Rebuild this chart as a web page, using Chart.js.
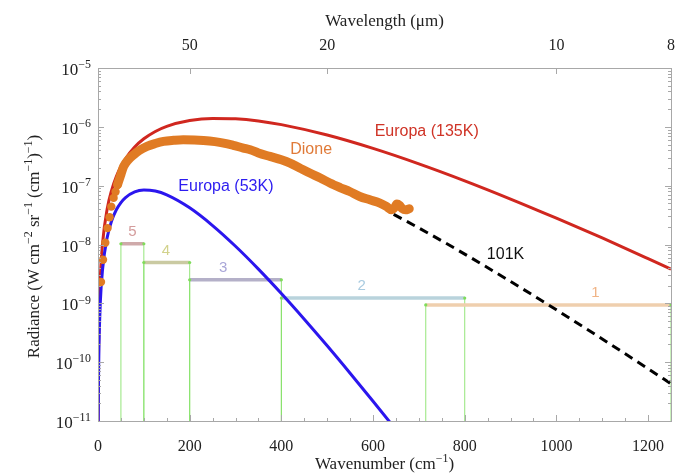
<!DOCTYPE html>
<html>
<head>
<meta charset="utf-8">
<script src="https://cdn.jsdelivr.net/npm/chart.js@4.4.0/dist/chart.umd.min.js"></script>
<style>
  html, body { margin: 0; padding: 0; background: #fff; }
  #wrap { width: 684px; height: 474px; }
</style>
</head>
<body>
<div id="wrap"><canvas id="chart" width="684" height="474"></canvas></div>
<script>
// ─── DATA ─────────────────────────────────────────────────
// wavenumber (cm^-1) / radiance (W cm^-2 sr^-1 (cm^-1)^-1)
const nu135 = [0.25, 0.5, 1, 2, 5, 10, 20, 30, 40, 50, 60, 80, 100, 125, 150, 200, 250, 300, 350, 400, 500, 600, 700, 800, 900, 1000, 1100, 1200, 1250];
const europa135 = [7e-12, 2.8e-11, 1.11e-10, 4.4e-10, 2.7e-9, 1.06e-8, 4.0e-8, 8.5e-8, 1.43e-7, 2.12e-7, 2.87e-7, 4.53e-7, 6.26e-7, 8.34e-7, 1.02e-6, 1.28e-6, 1.39e-6, 1.37e-6, 1.26e-6, 1.09e-6, 7.26e-7, 4.3e-7, 2.35e-7, 1.21e-7, 5.93e-8, 2.8e-8, 1.29e-8, 5.75e-9, 3.81e-9];

const nu53 = [0.4, 0.5, 1, 2, 5, 10, 20, 30, 40, 50, 60, 80, 100, 125, 150, 200, 250, 300, 350, 400, 450, 500, 550, 600, 650];
const europa53 = [7e-12, 1.09e-11, 4.33e-11, 1.71e-10, 1.02e-9, 3.82e-9, 1.32e-8, 2.56e-8, 3.89e-8, 5.16e-8, 6.28e-8, 7.85e-8, 8.45e-8, 8.09e-8, 6.97e-8, 4.2e-8, 2.1e-8, 9.34e-9, 3.82e-9, 1.47e-9, 5.38e-10, 1.9e-10, 6.5e-11, 2.17e-11, 7.1e-12];

const nu101 = [645, 700, 800, 900, 1000, 1100, 1200, 1250];
const bb101 = [3.26e-8, 1.91e-8, 6.87e-9, 2.35e-9, 7.75e-10, 2.48e-10, 7.75e-11, 4.29e-11];

const dioneNu = [6.5, 10.9, 15.9, 20.9, 25.3, 29, 34, 38.3, 42.7, 50, 56, 65, 78, 90, 107, 125, 143, 165, 186, 210, 230, 255, 274, 295, 317, 332, 350, 375, 400, 419, 440, 462, 485, 506, 528, 549, 571, 593, 615, 629, 640, 647, 652, 658, 664, 671, 679];
const dioneRad = [2.3e-9, 5.5e-9, 1.07e-8, 1.9e-8, 2.9e-8, 4.4e-8, 6.2e-8, 7.9e-8, 1.04e-7, 1.55e-7, 2.12e-7, 2.7e-7, 3.36e-7, 3.95e-7, 4.65e-7, 5.2e-7, 5.65e-7, 5.9e-7, 6.04e-7, 6.0e-7, 5.87e-7, 5.6e-7, 5.3e-7, 4.85e-7, 4.36e-7, 4.08e-7, 3.6e-7, 3.14e-7, 2.75e-7, 2.42e-7, 2.0e-7, 1.64e-7, 1.35e-7, 1.11e-7, 9.3e-8, 7.96e-8, 6.55e-8, 5.75e-8, 5.06e-8, 4.43e-8, 3.89e-8, 4.26e-8, 4.86e-8, 4.6e-8, 4.05e-8, 3.89e-8, 4.05e-8];

// spectral bands
const bandNames = ['1', '2', '3', '4', '5'];
const bandLo = [715, 400, 200, 100, 50];
const bandHi = [1250, 800, 400, 200, 100];
const bandLevel = [9.4e-10, 1.23e-9, 2.51e-9, 4.94e-9, 1.03e-8];

// axes
const xTicks = [0, 200, 400, 600, 800, 1000, 1200];
const topTickNu = [200, 500, 1000, 1250];
const topTickLabels = ['50', '20', '10', '8'];
const yDecades = [-11, -10, -9, -8, -7, -6, -5];

// ─── STYLE ────────────────────────────────────────────────
const SERIF = '"Liberation Serif", "DejaVu Serif", serif';
const SANS = '"Liberation Sans", Arial, sans-serif';
const bandLine = ['#efcfae', '#b9d3dc', '#b4b0c8', '#cacaa2', '#cfaaaa'];
const bandText = ['#f0b486', '#a9cbe0', '#a9a6d8', '#d2d28c', '#d49c9c'];

const curveLabels = [
    { text: 'Europa (135K)', nu: 717, rad: 8.3e-7, color: '#cf3326' },
    { text: 'Dione', nu: 465, rad: 4.1e-7, color: '#e07a38' },
    { text: 'Europa (53K)', nu: 279, rad: 9.7e-8, color: '#2c1cf0' },
    { text: '101K', nu: 889, rad: 6.7e-9, color: '#111' },
];
const bandLabelNu = [1085, 575, 273, 148, 75];

const pts = (xs, ys) => xs.map((x, i) => ({ x, y: ys[i] }));

// vertical green edges of each band
const edges = [];
bandLo.forEach((lo, i) => {
    [lo, bandHi[i]].forEach(v => {
        edges.push({ x: v, y: 1e-11 }, { x: v, y: bandLevel[i] }, { x: v, y: null });
    });
});

const datasets = [
    {
        data: pts(dioneNu, dioneRad), order: 0,
        borderColor: '#e07b24', borderWidth: 9, borderCapStyle: 'round', borderJoinStyle: 'round',
        pointRadius: c => (c.raw && c.raw.x < 45 ? 4.2 : 0),
        pointBackgroundColor: '#e07b24', pointBorderWidth: 0,
        segment: { borderColor: c => (c.p0.parsed.x < 42 ? 'rgba(0,0,0,0)' : undefined) },
        cubicInterpolationMode: 'monotone',
    },
    { data: pts(nu53, europa53), order: 1, borderColor: '#2b16ee', borderWidth: 3, pointRadius: 0, cubicInterpolationMode: 'monotone' },
    { data: pts(nu135, europa135), order: 2, borderColor: '#d0271f', borderWidth: 3, pointRadius: 0, cubicInterpolationMode: 'monotone' },
    { data: pts(nu101, bb101), order: 3, borderColor: '#000', borderWidth: 3, borderDash: [9, 6], pointRadius: 0, cubicInterpolationMode: 'monotone' },
    { data: edges, order: 20, borderColor: 'rgba(130,225,100,0.85)', borderWidth: 1, pointRadius: 0, spanGaps: false },
];
bandLo.forEach((lo, i) => {
    datasets.push({
        data: [{ x: lo, y: bandLevel[i] }, { x: bandHi[i], y: bandLevel[i] }], order: 10,
        borderColor: bandLine[i], borderWidth: 3.5, pointRadius: 1.6,
        pointBackgroundColor: '#7fdc5a', pointBorderWidth: 0,
    });
});
datasets.forEach(d => { d.showLine = true; });

// rich text with superscripts: parts = [[text, isSup], ...]
function richWidth(ctx, parts, size) {
    return parts.reduce((w, [t, sup]) => {
        ctx.font = `${sup ? size * 0.7 : size}px ${SERIF}`;
        return w + ctx.measureText(t).width;
    }, 0);
}
function drawRich(ctx, parts, x, y, size) {
    let cx = x;
    parts.forEach(([t, sup]) => {
        ctx.font = `${sup ? size * 0.7 : size}px ${SERIF}`;
        ctx.fillText(t, cx, sup ? y - size * 0.4 : y);
        cx += ctx.measureText(t).width;
    });
}

const decor = {
    id: 'decor',
    afterDraw(chart) {
        const { ctx, chartArea: a, scales: { x, y } } = chart;
        ctx.save();
        // frame
        ctx.strokeStyle = '#a8a8a8';
        ctx.lineWidth = 1;
        ctx.strokeRect(Math.round(a.left) + 0.5, Math.round(a.top) + 0.5, Math.round(a.right - a.left), Math.round(a.bottom - a.top));

        // inward ticks
        ctx.beginPath();
        for (let v = 0; v <= 1250; v += 50) {
            const px = Math.round(x.getPixelForValue(v)) + 0.5;
            const len = v % 200 === 0 ? 6 : 3;
            ctx.moveTo(px, a.bottom); ctx.lineTo(px, a.bottom - len);
        }
        topTickNu.forEach(v => {
            const px = Math.round(x.getPixelForValue(v)) + 0.5;
            ctx.moveTo(px, a.top); ctx.lineTo(px, a.top + 6);
        });
        yDecades.forEach(e => {
            for (let m = 1; m <= 9; m++) {
                if (e === -5 && m > 1) break;
                const py = Math.round(y.getPixelForValue(m * Math.pow(10, e))) + 0.5;
                const len = m === 1 ? 6 : 3;
                ctx.moveTo(a.left, py); ctx.lineTo(a.left + len, py);
                ctx.moveTo(a.right, py); ctx.lineTo(a.right - len, py);
            }
        });
        ctx.stroke();

        // y tick labels 10^n
        ctx.fillStyle = '#222';
        ctx.textBaseline = 'alphabetic';
        ctx.textAlign = 'left';
        yDecades.forEach(e => {
            const py = y.getPixelForValue(Math.pow(10, e));
            const parts = [['10', false], ['\u2212' + Math.abs(e), true]];
            const w = richWidth(ctx, parts, 17);
            drawRich(ctx, parts, 91 - w, py + 7, 17);
        });

        // axis titles
        const xt = [['Wavenumber (cm', false], ['\u22121', true], [')', false]];
        drawRich(ctx, xt, (a.left + a.right) / 2 - richWidth(ctx, xt, 17) / 2, 469, 17);
        const tt = [['Wavelength (\u03bcm)', false]];
        drawRich(ctx, tt, (a.left + a.right) / 2 - richWidth(ctx, tt, 17) / 2, 26, 17);
        const yt = [['Radiance (W cm', false], ['\u22122', true], [' sr', false], ['\u22121', true],
            [' (cm', false], ['\u22121', true], [')', false], ['\u22121', true], [')', false]];
        ctx.save();
        ctx.translate(39, (a.top + a.bottom) / 2 + 2);
        ctx.rotate(-Math.PI / 2);
        drawRich(ctx, yt, -richWidth(ctx, yt, 17) / 2, 0, 17);
        ctx.restore();

        // curve labels
        ctx.textAlign = 'center';
        ctx.textBaseline = 'middle';
        ctx.font = `16px ${SANS}`;
        curveLabels.forEach(l => {
            ctx.fillStyle = l.color;
            ctx.fillText(l.text, x.getPixelForValue(l.nu), y.getPixelForValue(l.rad));
        });
        // band numbers
        ctx.font = `15px ${SANS}`;
        bandNames.forEach((n, i) => {
            ctx.fillStyle = bandText[i];
            ctx.fillText(n, x.getPixelForValue(bandLabelNu[i]), y.getPixelForValue(bandLevel[i]) - 12);
        });
        ctx.restore();
    }
};

new Chart(document.getElementById('chart'), {
    type: 'scatter',
    data: { datasets },
    options: {
        responsive: false, animation: false,
        layout: { padding: { left: 0, right: 13, top: 0, bottom: 0 } },
        plugins: { legend: { display: false }, tooltip: { enabled: false } },
        scales: {
            x: {
                type: 'linear', position: 'bottom', min: 0, max: 1250,
                grid: { display: false }, border: { display: false },
                afterBuildTicks: s => { s.ticks = xTicks.map(v => ({ value: v })); },
                afterFit: s => { s.height = 53; },
                ticks: { autoSkip: false, maxRotation: 0, padding: 8, color: '#222', font: { family: SERIF, size: 16 },
                    callback: v => String(v) },
            },
            x2: {
                type: 'linear', position: 'top', min: 0, max: 1250,
                grid: { display: false }, border: { display: false },
                afterBuildTicks: s => { s.ticks = topTickNu.map(v => ({ value: v })); },
                afterFit: s => { s.height = 68; },
                ticks: { autoSkip: false, maxRotation: 0, padding: 5, color: '#222', font: { family: SERIF, size: 16 },
                    callback: (v, i) => topTickLabels[i] },
            },
            y: {
                type: 'logarithmic', min: 1e-11, max: 1e-5,
                grid: { display: false }, border: { display: false },
                ticks: { display: false },
                afterFit: s => { s.width = 98; },
            },
        },
    },
    plugins: [decor],
});
</script>
</body>
</html>
